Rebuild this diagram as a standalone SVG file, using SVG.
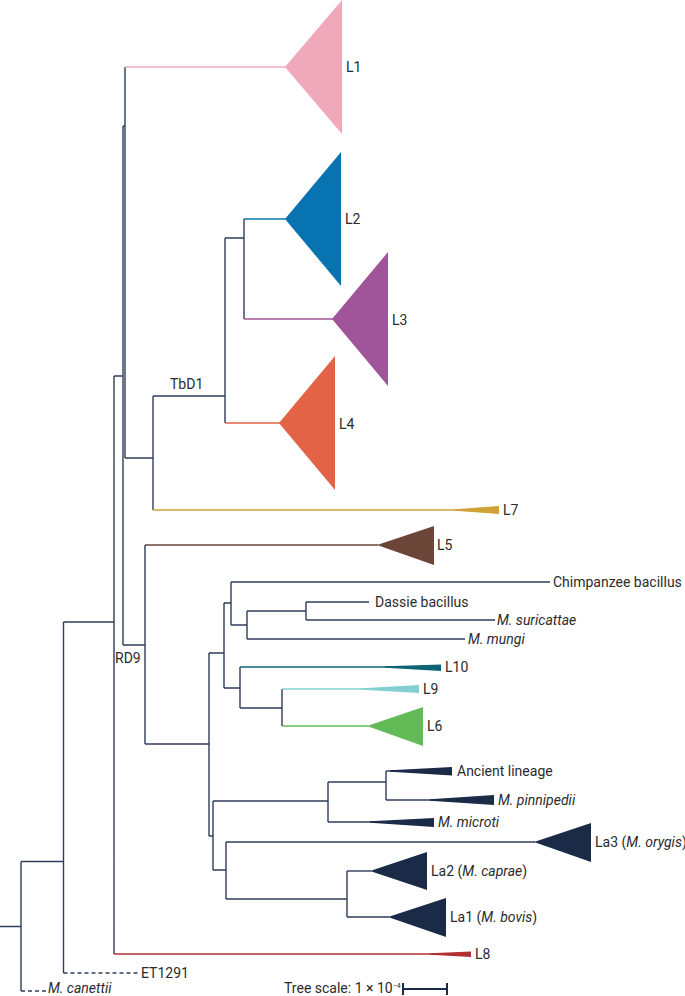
<svg xmlns="http://www.w3.org/2000/svg" width="685" height="996" viewBox="0 0 685 996">
<style>
.b{fill:none;stroke:#2f3d5a;stroke-width:1.4}
.d{fill:none;stroke:#2f3d5a;stroke-width:1.3;stroke-dasharray:4 3}
.t{font-family:Roboto,"Liberation Sans",sans-serif;font-size:14px;fill:#2b2b2b}
.i{font-style:italic}
.n{fill:#1b2b47}
</style>
<rect width="685" height="996" fill="#fff"/>
<g id="connectors">
<path class="b" d="M0 926.5H21M21 861.5V991M21 861.5H63.5M63.5 622V973M63.5 622H114M114 376V954M114 376H123M123 126V645M123 126H125M125 67V458M125 458H153M153 396V510M153 396H225M225 238V423M225 238H244M244 219V319"/>
<path class="b" d="M123 645H145M145 545V744M145 744H209M209 653V836M209 836H213M213 801V870M209 653H224M224 603V688M224 603H231M231 582V625M231 625H247M247 611V639M247 611H306M306 602V620M224 688H240M240 667V708M240 708H282M282 689V726"/>
<path class="b" d="M213 801H328M328 782V822M328 782H386M386 771V800M213 870H226M226 842V899M226 899H347M347 871V917"/>
<path class="d" d="M21 991H46M63.5 973H138"/>
</g>
<g id="L1"><path d="M125 67H286" stroke="#f0a9bb" stroke-width="1.6"/><polygon points="285,67 342,0 342,134" fill="#f0a9bb"/><text class="t" x="346" y="72">L1</text></g>
<g id="L2"><path d="M244 219H286" stroke="#0773b0" stroke-width="1.6"/><polygon points="285,219 341,152 341,286" fill="#0773b0"/><text class="t" x="345" y="224">L2</text></g>
<g id="L3"><path d="M244 319H333" stroke="#a0549a" stroke-width="1.6"/><polygon points="332,319 388,252 388,386" fill="#a0549a"/><text class="t" x="392" y="325">L3</text></g>
<g id="L4"><path d="M225 423H280" stroke="#e36346" stroke-width="1.6"/><polygon points="279,423 335,356 335,490" fill="#e36346"/><text class="t" x="339" y="429">L4</text></g>
<g id="TbD1"><text class="t" x="170" y="389">TbD1</text></g>
<g id="L7"><path d="M153 510H460" stroke="#cfa136" stroke-width="1.6"/><polygon points="455,509.2 499,506 499,514 455,510.8" fill="#cfa136"/><text class="t" x="503" y="515">L7</text></g>
<g id="L5"><path d="M145 545H378" stroke="#6b4537" stroke-width="1.6"/><polygon points="377,545 434,526 434,565" fill="#6b4537"/><text class="t" x="437" y="550">L5</text></g>
<g id="RD9"><text class="t" x="115" y="663">RD9</text></g>
<g id="chimp"><path class="b" d="M231 582H550"/><text class="t" x="553" y="587">Chimpanzee bacillus</text></g>
<g id="dassie"><path class="b" d="M306 602H369"/><text class="t" x="375" y="607">Dassie bacillus</text></g>
<g id="suricattae"><path class="b" d="M306 620H495"/><text class="t i" x="497" y="625">M. suricattae</text></g>
<g id="mungi"><path class="b" d="M247 639H465"/><text class="t i" x="468" y="644">M. mungi</text></g>
<g id="L10"><path d="M240 667H395" stroke="#0e6474" stroke-width="1.6"/><polygon points="385,666.2 441,664.5 441,671 385,667.8" fill="#0e6474"/><text class="t" x="445" y="672">L10</text></g>
<g id="L9"><path d="M282 689H370" stroke="#84d0d0" stroke-width="1.6"/><polygon points="362,688.2 419,685 419,693 362,689.8" fill="#84d0d0"/><text class="t" x="423" y="694">L9</text></g>
<g id="L6"><path d="M282 726H368" stroke="#62bb57" stroke-width="1.6"/><polygon points="367,726 423,707 423,746" fill="#62bb57"/><text class="t" x="427" y="731">L6</text></g>
<g id="ancient"><path class="b" d="M386 771H395"/><polygon class="n" points="390,770.3 452,767 452,775.5 390,771.7"/><text class="t" x="457" y="776">Ancient lineage</text></g>
<g id="pinnipedii"><path class="b" d="M386 800H440"/><polygon class="n" points="430,799.3 494,795 494,805 430,800.7"/><text class="t i" x="498" y="805">M. pinnipedii</text></g>
<g id="microti"><path class="b" d="M328 822H380"/><polygon class="n" points="370,821.3 434,818 434,827 370,822.7"/><text class="t i" x="438" y="827">M. microti</text></g>
<g id="La3"><path class="b" d="M226 842H535"/><polygon class="n" points="534,842 591,823 591,862"/><text class="t" x="595" y="847">La3 (<tspan class="i">M. orygis</tspan>)</text></g>
<g id="La2"><path class="b" d="M347 871H371"/><polygon class="n" points="370,871 427,852 427,890"/><text class="t" x="431" y="876">La2 (<tspan class="i">M. caprae</tspan>)</text></g>
<g id="La1"><path class="b" d="M347 917H389"/><polygon class="n" points="388,917 446,898 446,937"/><text class="t" x="450" y="922">La1 (<tspan class="i">M. bovis</tspan>)</text></g>
<g id="L8"><path d="M114 954H440" stroke="#b03034" stroke-width="1.6"/><polygon points="430,953.2 471,951.5 471,957 430,954.8" fill="#b03034"/><text class="t" x="475" y="959">L8</text></g>
<g id="ET1291"><text class="t" x="141" y="978">ET1291</text></g>
<g id="canettii"><text class="t i" x="48" y="993">M. canettii</text></g>
<g id="scale"><text class="t" x="284" y="993" font-size="11.5">Tree scale: 1 × 10<tspan font-size="7" dy="-5">−4</tspan></text><path d="M403 983V995M447 983V995M403 989H447" fill="none" stroke="#1b2b47" stroke-width="2"/></g>
</svg>
